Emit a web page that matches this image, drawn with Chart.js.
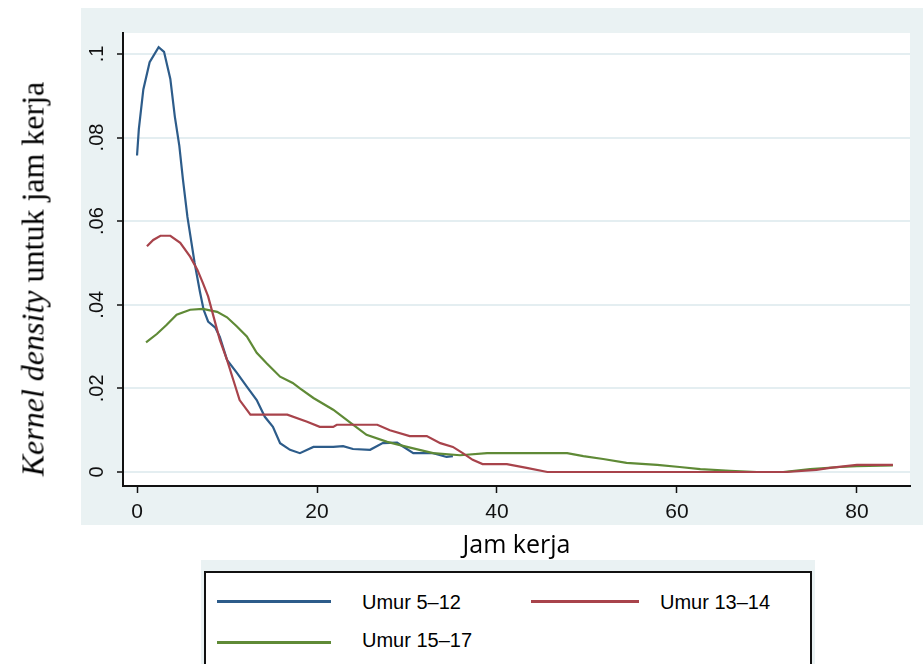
<!DOCTYPE html>
<html>
<head>
<meta charset="utf-8">
<script src="https://cdn.jsdelivr.net/npm/chart.js@4"></script>
<style>
    html, body {
        margin: 0;
        padding: 0;
        background: #ffffff;
    }

    #wrap {
        position: relative;
        width: 923px;
        height: 664px;
        overflow: hidden;
    }

    #densityChart {
        position: absolute;
        left: 0;
        top: 0;
    }

    #yTitle {
        position: absolute;
        left: 33px;
        top: 279px;
        transform: translate(-50%, -50%) rotate(-90deg);
        white-space: nowrap;
        font-family: "Liberation Serif", "Times New Roman", serif;
        font-size: 32px;
        color: #000;
    }

    #legendBack {
        position: absolute;
        left: 201px;
        top: 560px;
        width: 614px;
        height: 110px;
        background: #eaf2f3;
    }

    #legendBox {
        position: absolute;
        left: 204px;
        top: 571px;
        width: 608px;
        height: 110px;
        box-sizing: border-box;
        border: 2px solid #111;
        background: #ffffff;
    }

    .legend-line {
        position: absolute;
        height: 3px;
    }

    .legend-text {
        position: absolute;
        font-family: "Liberation Sans", Arial, sans-serif;
        font-size: 20px;
        line-height: 24px;
        color: #000;
        white-space: nowrap;
    }
</style>
</head>
<body>
<div id="wrap">
    <canvas id="densityChart" width="923" height="664"></canvas>
    <div id="yTitle"><i>Kernel density</i> untuk jam kerja</div>
    <div id="legendBack"></div>
    <div id="legendBox"></div>
</div>

<script>
// Umur 5-12
const blueHours = [0, 0.2, 0.7, 1.4, 2.4, 3.0, 3.7, 4.2, 4.7, 5.1, 5.6, 6.4, 7.0, 7.4, 7.9, 8.7, 9.2, 10, 11.1, 12.2, 13.3, 14.2, 15.1, 15.9, 17, 18.1, 19.6, 21.8, 22.9, 24, 25.9, 27.3, 28.9, 30.7, 32.9, 34.4, 35.1];
const blueDensity = [0.0757, 0.082, 0.0915, 0.098, 0.1016, 0.1005, 0.094, 0.085, 0.078, 0.07, 0.061, 0.050, 0.043, 0.0388, 0.036, 0.0345, 0.0323, 0.0268, 0.0237, 0.0204, 0.0172, 0.0132, 0.0108, 0.0069, 0.0053, 0.0045, 0.006, 0.006, 0.0062, 0.0055, 0.0053, 0.0069, 0.007, 0.0045, 0.0045, 0.0036, 0.0038];

// Umur 13-14
const redHours = [1.1, 1.8, 2.6, 3.7, 4.8, 5.9, 6.7, 7.3, 7.9, 8.4, 9.2, 10, 10.7, 11.4, 12.6, 16.7, 18.9, 20.3, 21.8, 22.2, 26.7, 28.1, 30.3, 32.2, 33.7, 35.1, 36.2, 37.3, 38.4, 41.1, 43.3, 45.6, 72.2, 75.5, 77, 80, 84];
const redDensity = [0.054, 0.0555, 0.0565, 0.0565, 0.0548, 0.0515, 0.0484, 0.0453, 0.042, 0.038, 0.0316, 0.0268, 0.022, 0.0172, 0.0137, 0.0137, 0.012, 0.0108, 0.0108, 0.0113, 0.0113, 0.01, 0.0086, 0.0086, 0.0069, 0.006, 0.0045, 0.0029, 0.0019, 0.0019, 0.001, 0.0, 0.0, 0.0005, 0.001, 0.0017, 0.0017];

// Umur 15-17
const greenHours = [1, 2.2, 3.3, 4.4, 5.9, 7.3, 8.9, 10, 11.1, 12.2, 13.3, 14.4, 15.9, 17.3, 18.1, 19.6, 21.8, 23.7, 25.5, 27.8, 30, 32.9, 35.9, 38.9, 47.8, 49.6, 51.8, 54.4, 57.8, 60.3, 62.6, 65.9, 68.9, 71.8, 74.8, 78.1, 80, 84];
const greenDensity = [0.031, 0.033, 0.0352, 0.0376, 0.0388, 0.039, 0.0383, 0.037, 0.0348, 0.0324, 0.0285, 0.026, 0.0228, 0.0213, 0.020, 0.0177, 0.0149, 0.0118, 0.0089, 0.0072, 0.006, 0.0045, 0.004, 0.0045, 0.0045, 0.0038, 0.0031, 0.0022, 0.0017, 0.0012, 0.0007, 0.0003, 0, 0, 0.0007, 0.0012, 0.0014, 0.0016];

const seriesNames = ["Umur 5–12", "Umur 13–14", "Umur 15–17"];
const seriesColors = ["#2d5c8a", "#a8434b", "#5f8a36"];

const xTickValues = [0, 20, 40, 60, 80];
const xTickLabels = ["0", "20", "40", "60", "80"];
const yTickValues = [0, 0.02, 0.04, 0.06, 0.08, 0.1];
const yTickLabels = ["0", ".02", ".04", ".06", ".08", ".1"];

const BG = "#eaf2f3";

function toPoints(xs, ys) {
    return xs.map((x, i) => ({ x: x, y: ys[i] }));
}

const backgroundPlugin = {
    id: "stataBackground",
    beforeDraw(chart) {
        const { ctx, chartArea } = chart;
        ctx.save();
        ctx.fillStyle = BG;
        ctx.fillRect(81, 8, 842, 517);
        ctx.fillStyle = "#ffffff";
        ctx.fillRect(chartArea.left, chartArea.top, chartArea.right - chartArea.left, chartArea.bottom - chartArea.top);
        ctx.restore();
    },
};

function buildLegend() {
    const box = document.getElementById("legendBox");
    // positions relative to the box (left 204, top 571)
    const slots = [
        { lineLeft: 11, lineTop: 27, textLeft: 156, textTop: 17 },
        { lineLeft: 325, lineTop: 27, textLeft: 454, textTop: 17 },
        { lineLeft: 11, lineTop: 68, textLeft: 156, textTop: 55 },
    ];

    seriesNames.forEach((name, i) => {
        const line = document.createElement("div");
        line.className = "legend-line";
        line.style.left = slots[i].lineLeft + "px";
        line.style.top = slots[i].lineTop + "px";
        line.style.width = (i === 1 ? 108 : 114) + "px";
        line.style.background = seriesColors[i];
        box.appendChild(line);

        const text = document.createElement("div");
        text.className = "legend-text";
        text.style.left = slots[i].textLeft + "px";
        text.style.top = slots[i].textTop + "px";
        text.textContent = name;
        box.appendChild(text);
    });
}

function renderDensityChart() {
    const chartCanvas = document.getElementById("densityChart");
    const allHours = [blueHours, redHours, greenHours];
    const allDensity = [blueDensity, redDensity, greenDensity];
    const drawOrder = [2, 0, 1];

    new Chart(chartCanvas, {
        type: "line",
        data: {
            datasets: seriesNames.map((name, i) => ({
                label: name,
                data: toPoints(allHours[i], allDensity[i]),
                borderColor: seriesColors[i],
                backgroundColor: seriesColors[i],
                borderWidth: 2.2,
                pointRadius: 0,
                tension: 0,
                fill: false,
                order: drawOrder[i],
            })),
        },
        options: {
            responsive: false,
            animation: false,
            devicePixelRatio: 1,
            layout: {
                padding: { left: 81, right: 13, top: 33, bottom: 103 },
            },
            plugins: {
                legend: { display: false },
                tooltip: { enabled: false },
            },
            scales: {
                x: {
                    type: "linear",
                    min: -1.56,
                    max: 85.9,
                    afterBuildTicks: (scale) => {
                        scale.ticks = xTickValues.map((v) => ({ value: v }));
                    },
                    afterFit: (scale) => {
                        scale.height = 75;
                    },
                    ticks: {
                        callback: (value, index) => xTickLabels[index],
                        font: { family: "'Liberation Sans', Arial, sans-serif", size: 21 },
                        color: "#111",
                        padding: 7,
                        maxRotation: 0,
                    },
                    grid: {
                        drawOnChartArea: false,
                        tickColor: "#111",
                        tickLength: 7,
                        tickWidth: 1.5,
                    },
                    border: { color: "#111", width: 2 },
                    title: {
                        display: true,
                        text: "Jam kerja",
                        font: { family: "'Open Sans', sans-serif", size: 25 },
                        color: "#000",
                        padding: 0,
                    },
                },
                y: {
                    type: "linear",
                    min: -0.00335,
                    max: 0.105,
                    afterBuildTicks: (scale) => {
                        scale.ticks = yTickValues.map((v) => ({ value: v }));
                    },
                    afterFit: (scale) => {
                        scale.width = 42;
                    },
                    ticks: {
                        callback: (value, index) => yTickLabels[index],
                        font: { family: "'Liberation Sans', Arial, sans-serif", size: 20 },
                        color: "#111",
                        padding: 6,
                        minRotation: 90,
                        maxRotation: 90,
                        crossAlign: "center",
                    },
                    grid: {
                        color: "#e4eef1",
                        lineWidth: 2,
                        tickColor: "#111",
                        tickLength: 6,
                        tickWidth: 1.5,
                    },
                    border: { color: "#111", width: 2 },
                },
            },
        },
        plugins: [backgroundPlugin],
    });
}

buildLegend();
renderDensityChart();
</script>
</body>
</html>
